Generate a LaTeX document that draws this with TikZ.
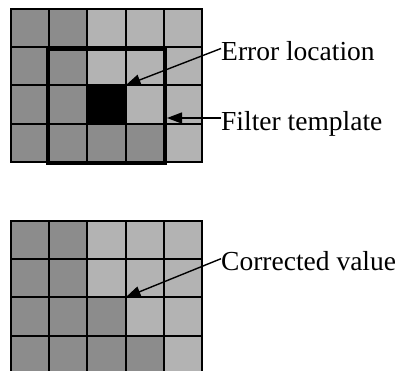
\documentclass[tikz,border=0pt]{standalone}
\usepackage{fontspec}
\setmainfont{Liberation Serif}
\usetikzlibrary{arrows.meta,calc}
\definecolor{dk}{RGB}{140,140,140}
\definecolor{lt}{RGB}{179,179,179}
\begin{document}
\begin{tikzpicture}[x=1pt,y=-1pt,
  cell/.style={draw=black, line width=2pt, minimum size=38.2pt, inner sep=0pt, outer sep=0pt},
  lbl/.style={anchor=base west, font=\fontsize{27.5}{30}\selectfont, inner sep=0pt},
  ptr/.style={line width=1.4pt, -{Triangle[length=15pt,width=11pt]}},
  frame/.style={draw=black, line width=4pt, inner sep=0pt, outer sep=0pt, anchor=north west}]
\useasboundingbox (0,0) rectangle (399,370);
\clip (0,0) rectangle (399,370);
% top grid
\foreach \col [count=\c from 0] in {dk,dk,lt,lt,lt}
  \node[cell, fill=\col] (t-0-\c) at ({30.1+38.2*\c},{28.1+38.2*0}) {};
\foreach \col [count=\c from 0] in {dk,dk,lt,lt,lt}
  \node[cell, fill=\col] (t-1-\c) at ({30.1+38.2*\c},{28.1+38.2*1}) {};
\foreach \col [count=\c from 0] in {dk,dk,black,lt,lt}
  \node[cell, fill=\col] (t-2-\c) at ({30.1+38.2*\c},{28.1+38.2*2}) {};
\foreach \col [count=\c from 0] in {dk,dk,dk,dk,lt}
  \node[cell, fill=\col] (t-3-\c) at ({30.1+38.2*\c},{28.1+38.2*3}) {};
\node[frame, minimum width=117pt, minimum height=114pt] (fbox) at (48,49) {};
% bottom grid
\foreach \col [count=\c from 0] in {dk,dk,lt,lt,lt}
  \node[cell, fill=\col] (b-0-\c) at ({30.1+38.2*\c},{240.1+38.2*0}) {};
\foreach \col [count=\c from 0] in {dk,dk,lt,lt,lt}
  \node[cell, fill=\col] (b-1-\c) at ({30.1+38.2*\c},{240.1+38.2*1}) {};
\foreach \col [count=\c from 0] in {dk,dk,dk,lt,lt}
  \node[cell, fill=\col] (b-2-\c) at ({30.1+38.2*\c},{240.1+38.2*2}) {};
\foreach \col [count=\c from 0] in {dk,dk,dk,dk,lt}
  \node[cell, fill=\col] (b-3-\c) at ({30.1+38.2*\c},{240.1+38.2*3}) {};
% labels
\node[lbl] (err) at (221,60.5) {Error location};
\node[lbl] (flt) at (221,130) {Filter template};
\node[lbl] (cor) at (221,270.7) {Corrected value};
% pointers
\coordinate (ftip) at ($(fbox.east)+(2,0)$);
\draw[ptr] ($(err.base west)+(0,-12)$) -- (t-1-3.south west);
\draw[ptr] ($(flt.base west)+(0,-12)$) -- (ftip |- {$(flt.base west)+(0,-12)$});
\draw[ptr] ($(cor.base west)+(0,-12)$) -- (b-1-3.south west);
\end{tikzpicture}
\end{document}
